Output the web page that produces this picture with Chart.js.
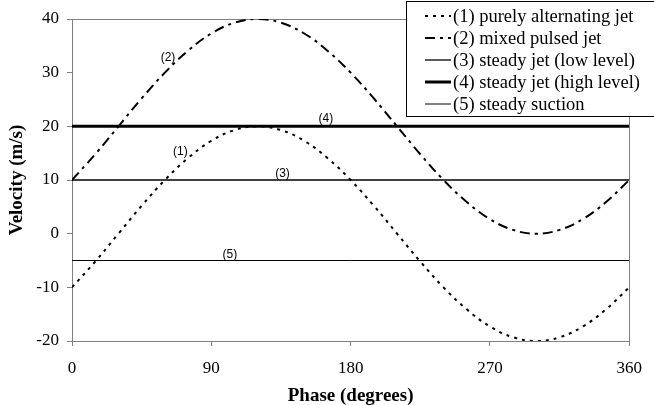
<!DOCTYPE html>
<html><head><meta charset="utf-8">
<script src="https://cdn.jsdelivr.net/npm/chart.js@4/dist/chart.umd.min.js"></script>
<style>html,body{margin:0;padding:0;background:#fff}</style>
</head>
<body>
<canvas id="c" width="654" height="405"></canvas>
<script>
// ---- data ----
const phaseDeg = [0,15,30,45,60,75,90,105,120,135,150,165,180,195,210,225,240,255,270,285,300,315,330,345,360];
const alternatingJet = [-10,-5.2,0,5.2,10,14.1,17.3,19.3,20,19.3,17.3,14.1,10,5.2,0,-5.2,-10,-14.1,-17.3,-19.3,-20,-19.3,-17.3,-14.1,-10];
const mixedPulsedJet = [10,14.8,20,25.2,30,34.1,37.3,39.3,40,39.3,37.3,34.1,30,25.2,20,14.8,10,5.9,2.7,0.7,0,0.7,2.7,5.9,10];
const steadyPhase = [0,360];
const steadyLow = [10,10];
const steadyHigh = [20,20];
const steadySuction = [-5,-5];
const seriesLabels = ['(1) purely alternating jet','(2) mixed pulsed jet','(3) steady jet (low level)','(4) steady jet (high level)','(5) steady suction'];
const xTicks = [0,90,180,270,360];
const yTicks = [-20,-10,0,10,20,30,40];
// inline curve tags (data units)
const tagText = ['(2)','(1)','(4)','(3)','(5)'];
const tagPhase = [62,70,164,136,102];
const tagValue = [32.7,15.2,21.4,11.1,-4];

const pts = (xs, ys) => xs.map((x,i)=>({x, y: ys[i]}));

const borderPlugin = {
  id:'plotBorder',
  beforeDatasetsDraw(chart){
    const {ctx, chartArea:a} = chart;
    ctx.save();
    ctx.strokeStyle = '#808080'; ctx.lineWidth = 1;
    ctx.beginPath();
    ctx.moveTo(Math.round(a.left)+0.5, Math.round(a.top)+0.5);
    ctx.lineTo(Math.round(a.right)+0.5, Math.round(a.top)+0.5);
    ctx.lineTo(Math.round(a.right)+0.5, Math.round(a.bottom)+0.5);
    ctx.stroke();
    ctx.restore();
  }
};

const tagPlugin = {
  id:'tags',
  afterDatasetsDraw(chart){
    const {ctx, scales:{x,y}} = chart;
    ctx.save();
    ctx.font = '12px "Liberation Sans", Arial, sans-serif';
    ctx.fillStyle = '#000'; ctx.textAlign = 'center'; ctx.textBaseline = 'middle';
    tagText.forEach((t,i)=> ctx.fillText(t, x.getPixelForValue(tagPhase[i]), y.getPixelForValue(tagValue[i])));
    ctx.restore();
  }
};

const legendPlugin = {
  id:'boxLegend',
  afterDraw(chart){
    const ctx = chart.ctx;
    ctx.save();
    const L=406.5, T=1.5, R=670, B=116.5;
    ctx.fillStyle='#fff'; ctx.fillRect(L,T,R-L,B-T);
    ctx.strokeStyle='#000'; ctx.lineWidth=1; ctx.strokeRect(L,T,R-L,B-T);
    ctx.font = '18.5px "Liberation Serif", "Times New Roman", serif';
    ctx.textBaseline='middle'; ctx.textAlign='left'; ctx.fillStyle='#000';
    chart.data.datasets.forEach((ds,i)=>{
      const yy = 16 + i*22;
      ctx.save();
      ctx.strokeStyle='#000'; ctx.lineWidth = ds.borderWidth;
      ctx.setLineDash(ds.borderDash || []);
      ctx.beginPath(); ctx.moveTo(425, yy); ctx.lineTo(451, yy); ctx.stroke();
      ctx.restore();
      ctx.fillText(ds.label, 453, yy+1);
    });
    ctx.restore();
  }
};

const serif = '"Liberation Serif", "Times New Roman", serif';

new Chart(document.getElementById('c'), {
  type:'line',
  data:{ datasets:[
    {label:seriesLabels[0], data:pts(phaseDeg, alternatingJet), borderColor:'#000', borderWidth:2, borderDash:[3,5], pointRadius:0, tension:0.4, fill:false},
    {label:seriesLabels[1], data:pts(phaseDeg, mixedPulsedJet), borderColor:'#000', borderWidth:2, borderDash:[10,5,3,5], pointRadius:0, tension:0.4, fill:false},
    {label:seriesLabels[2], data:pts(steadyPhase, steadyLow), borderColor:'#000', borderWidth:1.3, pointRadius:0, fill:false},
    {label:seriesLabels[3], data:pts(steadyPhase, steadyHigh), borderColor:'#000', borderWidth:3, pointRadius:0, fill:false},
    {label:seriesLabels[4], data:pts(steadyPhase, steadySuction), borderColor:'#000', borderWidth:1, pointRadius:0, fill:false}
  ]},
  options:{
    responsive:false, animation:false, devicePixelRatio:1,
    layout:{padding:{top:19,right:15,left:0,bottom:0}},
    plugins:{legend:{display:false}, tooltip:{enabled:false}},
    scales:{
      x:{type:'linear', min:0, max:360,
        afterBuildTicks(s){ s.ticks = xTicks.map(v=>({value:v})); },
        afterFit(s){ s.height = 64; },
        ticks:{font:{family:serif,size:17}, color:'#000', padding:12, maxRotation:0, autoSkip:false},
        grid:{drawOnChartArea:false, drawTicks:true, tickLength:5, color:'#808080'},
        border:{color:'#808080', width:1},
        title:{display:true, text:'Phase (degrees)', font:{family:serif,size:19,weight:'bold',lineHeight:1}, color:'#000', padding:{top:0,bottom:-1}}
      },
      y:{min:-20, max:40,
        afterBuildTicks(s){ s.ticks = yTicks.map(v=>({value:v})); },
        afterFit(s){ s.width = 72; },
        ticks:{font:{family:serif,size:17}, color:'#000', padding:8},
        grid:{drawOnChartArea:false, drawTicks:true, tickLength:5, color:'#808080'},
        border:{color:'#808080', width:1},
        title:{display:true, text:'Velocity (m/s)', font:{family:serif,size:19,weight:'bold',lineHeight:1}, color:'#000', padding:{top:8,bottom:0}}
      }
    }
  },
  plugins:[borderPlugin, tagPlugin, legendPlugin]
});
</script>
</body></html>
